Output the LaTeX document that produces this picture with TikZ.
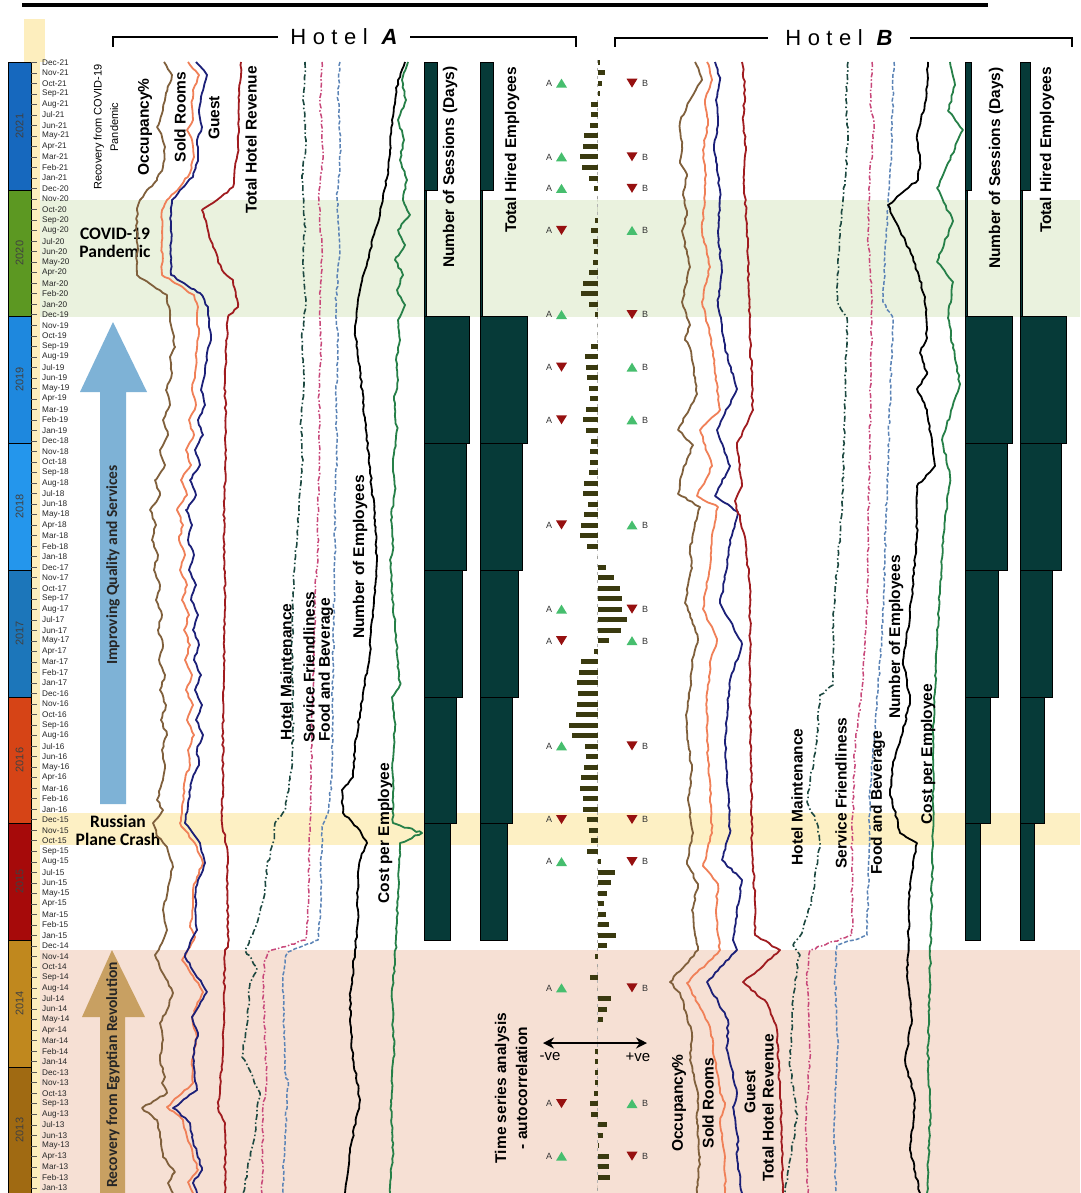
\documentclass[tikz,border=0pt]{standalone}
\usepackage{fontspec}
\setmainfont{Liberation Sans}
\newfontfamily\calib{Carlito}
\usetikzlibrary{arrows.meta,decorations.pathmorphing}
\definecolor{occC}{RGB}{128,96,60}
\definecolor{soldC}{RGB}{240,128,88}
\definecolor{guestC}{RGB}{28,32,120}
\definecolor{revC}{RGB}{160,28,32}
\definecolor{maintC}{RGB}{28,72,64}
\definecolor{servC}{RGB}{200,72,122}
\definecolor{foodC}{RGB}{92,132,182}
\definecolor{cpeC}{RGB}{38,128,72}
\definecolor{acC}{RGB}{58,58,16}
\definecolor{barC}{RGB}{6,58,56}
\definecolor{covidC}{RGB}{234,242,222}
\definecolor{crashC}{RGB}{253,240,196}
\definecolor{egyptC}{RGB}{246,224,212}
\definecolor{axisC}{RGB}{253,238,190}
\definecolor{blueArr}{RGB}{126,178,214}
\definecolor{goldArr}{RGB}{200,160,98}
\definecolor{triG}{RGB}{70,190,110}
\definecolor{triR}{RGB}{150,16,16}
\definecolor{yA}{RGB}{22,104,190}
\definecolor{yB}{RGB}{92,152,34}
\definecolor{yC}{RGB}{30,136,222}
\definecolor{yD}{RGB}{36,150,236}
\definecolor{yE}{RGB}{28,118,186}
\definecolor{yF}{RGB}{214,68,22}
\definecolor{yG}{RGB}{166,10,10}
\definecolor{yH}{RGB}{192,136,30}
\definecolor{yI}{RGB}{160,106,18}
\def\myO{62.3}
\def\myD{10.52}
\begin{document}
\begin{tikzpicture}[x=1pt,y=-1pt,
  rs/.style={decorate,decoration={random steps,segment length=4pt,amplitude=0.9pt}},
  ser/.style={line width=1.8pt,line join=round,rs},
  occ/.style={ser,draw=occC},
  sold/.style={ser,draw=soldC},
  guest/.style={ser,draw=guestC},
  rev/.style={ser,draw=revC},
  maint/.style={ser,draw=maintC,line width=1.6pt,dash pattern=on 6pt off 2.5pt on 1.5pt off 2.5pt},
  serv/.style={ser,draw=servC,line width=1.5pt,dash pattern=on 5pt off 2pt on 1.5pt off 2pt},
  food/.style={ser,draw=foodC,line width=1.5pt,dash pattern=on 4pt off 2pt},
  emp/.style={ser,draw=black},
  cpe/.style={ser,draw=cpeC},
  lbl/.style={rotate=90,inner sep=0pt,font=\fontsize{15.5}{17}\selectfont\bfseries},
  monthlbl/.style={anchor=west,inner sep=0pt,font=\fontsize{8.2}{9}\selectfont,text=black!85},
  yearlbl/.style={rotate=90,inner sep=0pt,font=\fontsize{11}{12}\selectfont,text=black!75},
  mk/.style={inner sep=0pt,font=\fontsize{9}{10}\selectfont,text=black!80},
  sesbar/.style={fill=barC,draw=black,line width=0.6pt},
  brk/.style={line width=2pt},
  evt/.style={align=center,inner sep=0pt,font=\calib\bfseries\fontsize{17.5}{18}\selectfont},
  arrtxt/.style={rotate=90,inner sep=0pt,font=\calib\bfseries\fontsize{15.5}{16}\selectfont,text=black!85}
]
\pgfmathsetseed{7}
\useasboundingbox (0,0) rectangle (1080,1193);
\fill[white] (0,0) rectangle (1080,1193);
% bands
\fill[covidC] (33,200) rectangle (1080,317);
\fill[crashC] (33,813) rectangle (1080,845);
\fill[egyptC] (33,950) rectangle (1080,1193);
% top line
\draw[line width=4pt] (22,5) -- (988,5);
% axis strip
\fill[axisC] (24,19) rectangle (45,62);
\fill[axisC] (24,62) rectangle (40,1193);
% year blocks
\foreach \t/\b/\c/\yr [count=\n] in {62/190/yA/2021,190/316/yB/2020,316/443/yC/2019,443/570/yD/2018,570/697/yE/2017,697/823/yF/2016,823/940/yG/2015,940/1067/yH/2014,1067/1193/yI/2013} {
  \filldraw[fill=\c,draw=black,line width=0.8pt] (8,\t) rectangle (31,\b);
  \node[yearlbl] (yr\n) at (19.5,{(\t+\b)/2}) {\yr};
}
% months
\foreach \yy [count=\k from 0] in {21,20,...,13} {
  \foreach \mn [count=\j from 0] in {Dec,Nov,Oct,Sep,Aug,Jul,Jun,May,Apr,Mar,Feb,Jan} {
    \pgfmathsetmacro\yv{\myO+\myD*(\k*12+\j)}
    \draw[black!65,line width=0.6pt] (31,\yv) -- (37,\yv);
    \node[monthlbl] (mo\k-\j) at (42,\yv) {\mn-\yy};
  }
}
% big arrows
\fill[blueArr] (100,804) -- (100,392) -- (80,392) -- (113,322) -- (147,392) -- (126,392) -- (126,804) -- cycle;
\fill[goldArr] (100,1193) -- (100,1017) -- (82,1017) -- (112,950) -- (145,1017) -- (125,1017) -- (125,1193) -- cycle;
\node[arrtxt] (impr) at (113,565) {Improving Quality and Services};
\node[arrtxt] (egy) at (113,1075) {Recovery from Egyptian Revolution};
\node[rotate=90,align=center,inner sep=0pt,font=\fontsize{11}{16.5}\selectfont] (rcov) at (106,127) {Recovery from COVID-19\\Pandemic};
\node[evt] (covid) at (115,243) {COVID-19\\Pandemic};
\node[evt] (crash) at (118,830) {Russian\\Plane Crash};
% headings
\draw[brk] (113,47) -- (113,37) -- (278,37);
\draw[brk] (410,37) -- (576,37) -- (576,47);
\node[font=\fontsize{22}{24}\selectfont,inner sep=0pt] (hA) at (344,37) {H\hspace{6.5pt}o\hspace{6.5pt}t\hspace{6.5pt}e\hspace{6.5pt}l\hspace{14pt}\textbf{\textit{A}}};
\draw[brk] (615,47) -- (615,38) -- (768,38);
\draw[brk] (910,38) -- (1072,38) -- (1072,47);
\node[font=\fontsize{22}{24}\selectfont,inner sep=0pt] (hB) at (839,38) {H\hspace{6.5pt}o\hspace{6.5pt}t\hspace{6.5pt}e\hspace{6.5pt}l\hspace{14pt}\textbf{\textit{B}}};
% bars sessions / hired
\foreach \t/\b/\w in {62/190/13,190/316/2,316/443/45,443/570/42,570/697/38,697/823/32,823/940/26} {\draw[sesbar] (424,\t) rectangle ++(\w,\b-\t);}
\foreach \t/\b/\w in {62/190/13,190/316/2,316/443/47,443/570/42,570/697/38,697/823/32,823/940/27} {\draw[sesbar] (480,\t) rectangle ++(\w,\b-\t);}
\foreach \t/\b/\w in {62/190/6,190/316/2,316/443/47,443/570/42,570/697/33,697/823/25,823/940/15} {\draw[sesbar] (965,\t) rectangle ++(\w,\b-\t);}
\foreach \t/\b/\w in {62/190/10,190/316/2,316/443/46,443/570/41,570/697/32,697/823/24,823/940/14} {\draw[sesbar] (1020,\t) rectangle ++(\w,\b-\t);}
% autocorrelation
\draw[black!30,line width=0.8pt,dash pattern=on 3pt off 5pt] (597.5,60) -- (597.5,1193);
\foreach \m/\v in {0/2.5,1/7,2/4,3/2.5,4/-7,5/-7,6/-8,7/-14,8/-15,9/-18,10/-16,11/-9,12/-4,13/0,14/0,15/-3,16/-7,17/-5,18/-4,19/-5,20/-9,21/-15,22/-17,23/-9,24/-3,25/0,26/0,27/-7,28/-13,29/-12,30/-11,31/-9,32/-8,33/-12,34/-15,35/-12,36/-7,37/-8,38/-8,39/-9,40/-14,41/-15,42/-10,43/-14,44/-17,45/-18,46/-11,47/0,48/8,49/16,50/22,51/24,52/24,53/29,54/23,55/11,56/-4,57/-17,58/-19,59/-21,60/-20,61/-21,62/-22,63/-29,64/-26,65/-13,66/-12,67/-14,68/-17,69/-18,70/-15,71/-15,72/-11,73/-9,74/-7,75/-11,76/3,77/17,78/13,79/9,80/6,81/8,82/11,83/18,84/9,85/-2.5,86/0,87/-8,88/0,89/13,90/9,91/5,92/0,93/0,94/-3,95/-2.5,96/-2.5,97/-2.5,98/-4,99/-8,100/-7,101/9,102/5,103/1.5,104/11,105/11,106/12,107/0} {
  \fill[acC] (597.5,{\myO+\myD*\m-2.5}) rectangle ++(\v,5);
}
% markers
\foreach \m in {2,9,12,24,52,65,76,88,104} {
  \pgfmathsetmacro\yv{\myO+\myD*\m}
  \fill[triG] (556,{\yv+4.3}) -- (567,{\yv+4.3}) -- (561.5,{\yv-4.7}) -- cycle;
  \node[mk] (au\m) at (549,\yv) {A};
}
\foreach \m in {16,29,34,44,55,72,99} {
  \pgfmathsetmacro\yv{\myO+\myD*\m}
  \fill[triR] (556,{\yv-4.7}) -- (567,{\yv-4.7}) -- (561.5,{\yv+4.3}) -- cycle;
  \node[mk] (ad\m) at (549,\yv) {A};
}
\foreach \m in {2,9,12,24,52,65,72,76,88,104} {
  \pgfmathsetmacro\yv{\myO+\myD*\m}
  \fill[triR] (626.5,{\yv-4.7}) -- (637.5,{\yv-4.7}) -- (632,{\yv+4.3}) -- cycle;
  \node[mk] (bd\m) at (645,\yv) {B};
}
\foreach \m in {16,29,34,44,55,99} {
  \pgfmathsetmacro\yv{\myO+\myD*\m}
  \fill[triG] (626.5,{\yv+4.3}) -- (637.5,{\yv+4.3}) -- (632,{\yv-4.7}) -- cycle;
  \node[mk] (bu\m) at (645,\yv) {B};
}
\coordinate (vl) at (543,1043);
\coordinate (vr) at (647,1043);
\draw[line width=2.4pt,{Stealth[length=11pt,width=11pt]}-{Stealth[length=11pt,width=11pt]}] (vl) -- (vr);
\node[font=\fontsize{15}{16}\selectfont,inner sep=0pt] (neg) at (550,1057) {-ve};
\node[font=\fontsize{15}{16}\selectfont,inner sep=0pt] (pos) at (638,1057) {+ve};
\node[rotate=90,align=center,inner sep=0pt,font=\fontsize{15.5}{21}\selectfont\bfseries] (tsa) at (511,1088) {Time series analysis\\- autocorrelation};
% ===== Hotel A series =====
\draw[occ] plot[sharp plot] coordinates {(164,62) (172,75) (166,93) (163,110) (157,127) (162,137) (165,147) (163,167) (157,180) (147,190) (140,200) (137,210) (137,275) (167,295) (170,317) (173,333) (175,347) (170,357) (172,373) (166,390) (170,405) (163,420) (168,435) (160,450) (165,465) (155,480) (160,495) (150,510) (156,525) (152,540) (158,555) (154,570) (160,585) (156,600) (162,615) (158,630) (163,645) (159,660) (165,675) (160,690) (166,705) (161,720) (167,735) (162,750) (165,765) (163,780) (157,800) (163,810) (153,823) (158,837) (167,847) (173,867) (168,887) (163,910) (167,930) (162,943) (155,955) (160,968) (173,993) (167,1010) (160,1023) (163,1040) (160,1060) (165,1077) (162,1083) (167,1093) (142,1108) (157,1120) (160,1137) (163,1157) (175,1172) (168,1183) (173,1193)};
\draw[sold] plot[sharp plot] coordinates {(188,62) (199,75) (193,90) (192,107) (193,120) (187,130) (192,140) (194,157) (190,173) (180,187) (167,200) (162,210) (162,275) (194,295) (198,307) (197,320) (199,333) (197,347) (195,373) (192,390) (196,405) (189,420) (194,435) (186,450) (191,465) (181,480) (187,495) (177,510) (183,525) (179,540) (185,555) (180,570) (187,585) (182,600) (189,615) (184,630) (190,645) (185,660) (192,675) (186,690) (193,705) (187,720) (194,735) (188,750) (190,765) (185,780) (182,813) (180,823) (185,830) (197,847) (203,863) (197,877) (193,890) (193,907) (190,927) (195,937) (190,947) (182,960) (200,987) (203,992) (192,1017) (197,1037) (192,1060) (193,1083) (167,1107) (183,1120) (187,1137) (198,1170) (188,1182) (193,1193)};
\draw[guest] plot[sharp plot] coordinates {(196,62) (207,75) (202,93) (199,110) (202,127) (197,140) (198,157) (193,177) (180,190) (172,200) (171,210) (171,275) (200,293) (208,307) (209,327) (211,340) (207,353) (205,373) (201,390) (205,405) (198,420) (203,435) (195,450) (200,465) (190,480) (196,495) (186,510) (192,525) (188,540) (194,555) (189,570) (196,585) (191,600) (198,615) (193,630) (199,645) (194,660) (201,675) (195,690) (202,705) (196,720) (203,735) (197,750) (199,765) (192,780) (185,823) (200,843) (205,863) (198,880) (195,897) (197,930) (190,943) (185,957) (207,992) (192,1017) (198,1033) (193,1057) (197,1090) (173,1108) (190,1123) (192,1137) (202,1170) (193,1183) (197,1193)};
\draw[rev] plot[sharp plot] coordinates {(241,62) (239,100) (238,147) (233,187) (217,200) (202,210) (213,247) (222,270) (233,280) (238,307) (228,317) (226,347) (225,380) (226,450) (224,520) (225,600) (223,700) (223,780) (222,823) (227,847) (228,947) (225,950) (223,1050) (218,1108) (225,1123) (225,1193)};
\draw[maint] plot[sharp plot] coordinates {(305,62) (303,100) (306,140) (302,180) (305,220) (303,260) (306,300) (302,340) (304,380) (301,420) (303,460) (299,500) (297,540) (295,560) (293,593) (292,660) (293,727) (292,767) (285,810) (275,823) (273,843) (267,867) (265,893) (258,920) (247,947) (245,950) (257,968) (250,983) (248,1017) (242,1057) (248,1067) (260,1093) (257,1110) (255,1133) (245,1183) (243,1193)};
\draw[serv] plot[sharp plot] coordinates {(322,62) (320,100) (323,150) (319,200) (322,250) (320,300) (321,350) (319,400) (320,450) (318,500) (318,560) (315,593) (313,693) (310,827) (308,920) (306,940) (268,952) (265,960) (263,983) (267,1083) (263,1107) (262,1193)};
\draw[food] plot[sharp plot] coordinates {(340,62) (338,100) (341,150) (337,200) (340,250) (336,300) (338,350) (336,400) (337,450) (335,500) (335,560) (333,660) (332,777) (328,813) (322,827) (320,920) (318,940) (288,952) (285,960) (283,983) (285,1077) (288,1080) (283,1183) (283,1193)};
\draw[emp] plot[sharp plot] coordinates {(405,62) (398,80) (392,120) (390,150) (388,170) (380,215) (370,250) (360,290) (355,330) (360,370) (365,420) (370,470) (375,520) (377,560) (372,620) (370,653) (360,713) (355,747) (353,777) (342,790) (343,813) (357,827) (367,843) (360,860) (357,893) (358,920) (355,950) (350,1000) (352,1050) (360,1100) (352,1140) (345,1193)};
\draw[cpe] plot[sharp plot] coordinates {(408,62) (402,80) (406,100) (398,120) (404,140) (400,160) (407,180) (403,200) (410,215) (398,230) (405,245) (395,260) (403,275) (397,290) (405,305) (398,320) (400,340) (396,360) (398,380) (394,400) (397,430) (393,460) (395,490) (391,520) (393,550) (390,560) (395,627) (400,685) (392,697) (395,727) (393,760) (393,823) (422,833) (400,843) (398,893) (397,920) (395,960) (392,1000) (394,1050) (391,1100) (393,1150) (390,1193)};
% ===== Hotel B series =====
\draw[occ] plot[sharp plot] coordinates {(695,62) (702,80) (690,100) (680,122) (682,145) (680,163) (687,176) (683,195) (687,215) (682,231) (690,267) (682,302) (690,325) (685,340) (690,348) (694,370) (697,394) (678,430) (693,445) (683,470) (678,494) (700,507) (694,530) (690,550) (692,568) (688,585) (685,603) (692,620) (698,639) (692,660) (690,690) (686,715) (688,741) (692,770) (688,800) (693,833) (687,864) (698,884) (692,910) (695,935) (698,950) (670,982) (680,993) (692,1033) (690,1060) (698,1093) (697,1123) (700,1157) (697,1193)};
\draw[sold] plot[sharp plot] coordinates {(707,62) (712,80) (705,100) (708,125) (703,150) (706,175) (705,190) (702,231) (710,267) (702,302) (708,325) (712,348) (720,410) (700,430) (712,466) (697,496) (718,507) (712,535) (710,568) (706,590) (703,609) (717,639) (710,665) (707,700) (707,741) (710,790) (712,833) (703,866) (718,884) (716,910) (718,935) (720,950) (687,983) (710,1027) (715,1060) (720,1093) (725,1103) (720,1123) (725,1157) (725,1193)};
\draw[guest] plot[sharp plot] coordinates {(715,62) (720,80) (716,100) (718,125) (714,150) (718,175) (720,190) (718,231) (722,272) (718,302) (722,325) (725,348) (737,389) (717,430) (730,466) (715,496) (738,512) (730,540) (727,568) (720,603) (742,644) (730,680) (725,741) (728,790) (730,833) (722,860) (742,880) (733,940) (737,950) (707,982) (728,1020) (727,1050) (737,1093) (733,1107) (738,1137) (737,1157) (742,1193)};
\draw[rev] plot[sharp plot] coordinates {(742,62) (745,90) (743,120) (746,150) (744,180) (747,231) (750,333) (753,410) (737,445) (742,486) (735,501) (745,537) (750,588) (750,690) (752,843) (755,904) (755,935) (780,950) (763,966) (743,982) (767,1003) (777,1030) (780,1090) (782,1137) (783,1193)};
\draw[maint] plot[sharp plot] coordinates {(848,62) (846,100) (848,140) (845,180) (843,200) (840,231) (837,302) (847,318) (845,400) (843,486) (840,537) (833,614) (833,685) (820,695) (817,741) (807,802) (817,823) (820,843) (813,894) (803,930) (793,945) (800,955) (798,960) (793,1000) (790,1067) (797,1117) (790,1160) (785,1193)};
\draw[serv] plot[sharp plot] coordinates {(872,62) (870,104) (874,122) (870,180) (868,231) (872,307) (870,435) (867,614) (862,690) (855,741) (852,843) (852,935) (810,950) (807,976) (810,1050) (806,1120) (808,1193)};
\draw[food] plot[sharp plot] coordinates {(894,62) (891,163) (888,200) (886,240) (883,302) (893,318) (887,486) (883,614) (878,690) (870,792) (867,935) (837,945) (835,976) (838,1050) (834,1120) (836,1193)};
\draw[emp] plot[sharp plot] coordinates {(928,62) (926,100) (917,135) (920,160) (918,180) (903,192) (888,205) (900,231) (913,257) (925,297) (927,338) (920,353) (927,374) (917,389) (927,410) (935,466) (917,486) (917,537) (910,614) (903,660) (910,700) (903,731) (893,762) (890,792) (900,833) (917,843) (910,884) (907,976) (912,1020) (905,1060) (915,1100) (910,1150) (920,1193)};
\draw[cpe] plot[sharp plot] coordinates {(950,62) (955,85) (948,111) (963,130) (948,163) (937,188) (953,221) (937,262) (953,282) (948,318) (953,348) (960,384) (942,440) (950,476) (943,537) (940,590) (937,639) (935,690) (933,741) (933,843) (930,976) (928,1050) (930,1120) (927,1193)};
% ===== labels =====
\node[lbl] (lOccA) at (145,127) {Occupancy\%};
\node[lbl] (lSoldA) at (180,117) {Sold Rooms};
\node[lbl] (lGuestA) at (214,118) {Guest};
\node[lbl] (lRevA) at (251,140) {Total Hotel Revenue};
\node[lbl] (lMaintA) at (286,672) {Hotel Maintenance};
\node[lbl] (lServA) at (309,667) {Service Friendliness};
\node[lbl] (lFoodA) at (326,670) {Food and Beverage};
\node[lbl] (lEmpA) at (360,557) {Number of Employees};
\node[lbl] (lCpeA) at (385,833) {Cost per Employee};
\node[lbl] (lSesA) at (450,167) {Number of Sessions (Days)};
\node[lbl] (lHirA) at (512,150) {Total Hired Employees};
\node[lbl] (lOccB) at (679,1103) {Occupancy\%};
\node[lbl] (lSoldB) at (708,1103) {Sold Rooms};
\node[lbl] (lGuestB) at (750,1092) {Guest};
\node[lbl] (lRevB) at (768,1108) {Total Hotel Revenue};
\node[lbl] (lMaintB) at (797,797) {Hotel Maintenance};
\node[lbl] (lServB) at (841,793) {Service Friendliness};
\node[lbl] (lFoodB) at (878,803) {Food and Beverage};
\node[lbl] (lEmpB) at (896,637) {Number of Employees};
\node[lbl] (lCpeB) at (928,754) {Cost per Employee};
\node[lbl] (lSesB) at (996,168) {Number of Sessions (Days)};
\node[lbl] (lHirB) at (1047,150) {Total Hired Employees};
\end{tikzpicture}
\end{document}
